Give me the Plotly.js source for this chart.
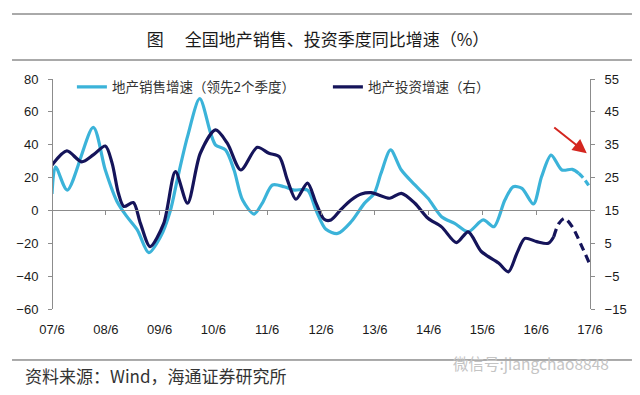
<!DOCTYPE html>
<html>
<head>
<meta charset="utf-8">
<script src="https://cdn.plot.ly/plotly-3.0.1.min.js"></script>
<style>html,body{margin:0;padding:0;background:#fff;}#chart{width:640px;height:395px;}</style>
</head>
<body>
<div id="chart"></div>
<script>
// Sales growth (left axis, led 2 quarters) - solid part
var salesDates = ["2007-06-01","2007-06-25","2007-09-13","2008-03-07","2008-05-28","2008-08-16","2008-10-22","2009-01-01","2009-03-19","2009-06-07","2009-08-13","2009-09-28","2009-12-07","2010-02-28","2010-05-13","2010-06-16","2010-08-22","2010-10-19","2010-12-16","2011-03-04","2011-04-28","2011-07-07","2011-09-25","2011-12-01","2012-03-01","2012-04-28","2012-07-04","2012-09-22","2012-12-22","2013-03-22","2013-05-28","2013-07-13","2013-09-16","2013-11-28","2014-02-28","2014-05-28","2014-08-28","2014-11-25","2015-02-25","2015-06-07","2015-08-19","2015-11-01","2015-12-28","2016-02-25","2016-05-13","2016-07-07","2016-09-10","2016-11-22","2017-02-01","2017-03-16"];
var salesValues = [10,26.6,12.4,50.6,24.6,5.3,-3.8,-12,-25.7,-16,0,18.5,44.9,68,47,39.8,36.8,24.6,6.3,-2.2,4.3,15.5,14.4,12.4,12.4,0,-11.5,-14,-6.9,4.3,10.4,22.6,36.8,24.6,15.5,7.4,-3.8,-7.9,-13,-5.8,-9.9,6.3,14.4,13.4,3.9,20.5,33.7,24.6,25,22.6];
// Sales growth - dashed (projection) part
var salesProjDates = ["2017-03-16","2017-04-19","2017-06-01"];
var salesProjValues = [22.6,19.5,14];

// Investment growth (right axis) - solid part
var invDates = ["2007-06-01","2007-09-10","2007-12-19","2008-03-07","2008-05-28","2008-07-13","2008-08-25","2008-10-01","2008-12-04","2009-01-22","2009-03-28","2009-06-28","2009-09-16","2009-12-07","2010-03-04","2010-06-16","2010-09-04","2010-12-04","2011-03-25","2011-06-13","2011-08-22","2011-10-16","2011-12-13","2012-03-01","2012-04-28","2012-06-22","2012-08-07","2012-10-16","2012-12-22","2013-03-01","2013-05-07","2013-09-10","2013-11-28","2014-02-28","2014-05-28","2014-08-28","2014-12-07","2015-02-25","2015-05-25","2015-09-19","2015-11-25","2016-01-22","2016-03-16","2016-06-04","2016-08-22","2016-09-28"];
var invValues = [28.8,33.1,29.8,31.9,34.6,29.4,20.2,16.2,17.4,11,4,11,26.8,17.2,32.4,39.5,35.4,27.3,34.2,32.4,31.4,24.3,18.4,23.3,17.2,12.3,12.1,15.4,18.2,20,20.4,18.7,20.2,17.2,12.6,10,5.2,8.5,2.5,-1,-3.7,2,6.5,5.5,5,7];
// Investment growth - dashed (projection) part
var invProjDates = ["2016-09-28","2016-11-01","2016-12-10","2017-02-01","2017-04-07","2017-06-01"];
var invProjValues = [7,11,12.6,10,4,-1.5];

var tickVals = ["2007-06-01","2008-06-01","2009-06-01","2010-06-01","2011-06-01","2012-06-01","2013-06-01","2014-06-01","2015-06-01","2016-06-01","2017-06-01"];
var tickLabels = ["07/6","08/6","09/6","10/6","11/6","12/6","13/6","14/6","15/6","16/6","17/6"];

var seriesNames = ["地产销售增速（领先2个季度）","地产投资增速（右）"];

var lightBlue = "#3bb3d9";
var navy = "#15145a";
var cjk = "Noto Sans CJK SC, sans-serif";
var latin = "Liberation Sans, Arial, sans-serif";

var traces = [
  {x: salesDates, y: salesValues, name: seriesNames[0], type: "scatter", mode: "lines",
   line: {color: lightBlue, width: 3.2, shape: "spline", smoothing: 0.8}, yaxis: "y", xaxis: "x"},
  {x: invDates, y: invValues, name: seriesNames[1], type: "scatter", mode: "lines",
   line: {color: navy, width: 3.2, shape: "spline", smoothing: 0.8}, yaxis: "y2", xaxis: "x"},
  {x: salesProjDates, y: salesProjValues, showlegend: false, type: "scatter", mode: "lines",
   line: {color: lightBlue, width: 3.2, shape: "spline", dash: "6px,4px"}, yaxis: "y", xaxis: "x", hoverinfo: "skip"},
  {x: invProjDates, y: invProjValues, showlegend: false, type: "scatter", mode: "lines",
   line: {color: navy, width: 3.2, shape: "spline", smoothing: 0.8, dash: "8px,5px"}, yaxis: "y2", xaxis: "x", hoverinfo: "skip"}
];

var layout = {
  width: 640, height: 395,
  margin: {l: 52, r: 50, t: 79, b: 86, pad: 0},
  paper_bgcolor: "#ffffff", plot_bgcolor: "#ffffff",
  showlegend: true,
  title: {text: "图\u3000 全国地产销售、投资季度同比增速（%）", x: 0.497, xanchor: "center", y: 0.899, yanchor: "middle",
          font: {family: cjk, size: 17, color: "#1a1a1a"}},
  legend: {orientation: "h", x: 0.037, xanchor: "left", y: 0.965, yanchor: "middle",
           font: {family: cjk, size: 13.5, color: "#333"}, bgcolor: "rgba(0,0,0,0)", entrywidth: 211, itemwidth: 30},
  xaxis: {type: "date", range: ["2007-06-01","2017-06-01"], tickvals: tickVals, ticktext: tickLabels,
          anchor: "free", position: 60/140, showline: true, linecolor: "#8c8c8c", linewidth: 1,
          ticks: "outside", ticklen: 4, tickcolor: "#8c8c8c", showgrid: false, zeroline: false,
          ticklabelstandoff: 103, tickfont: {family: latin, size: 13, color: "#1a1a1a"}, fixedrange: true},
  yaxis: {range: [-60, 80], dtick: 20, tick0: 0, showline: true, linecolor: "#8c8c8c", linewidth: 1,
          ticks: "outside", ticklen: 4, tickcolor: "#8c8c8c", showgrid: false, zeroline: false,
          anchor: "free", position: 0, ticklabelstandoff: 7,
          tickfont: {family: latin, size: 13, color: "#1a1a1a"}},
  yaxis2: {range: [-15, 55], dtick: 10, tick0: -15, overlaying: "y", side: "right", anchor: "free", position: 1,
           showline: true, linecolor: "#8c8c8c", linewidth: 1, ticks: "outside", ticklen: 4, tickcolor: "#8c8c8c",
           showgrid: false, zeroline: false, ticklabelstandoff: 7,
           tickfont: {family: latin, size: 13, color: "#1a1a1a"}},
  shapes: [
    {type: "line", xref: "paper", yref: "paper", x0: -0.0743, x1: 1.078, y0: 1.2826, y1: 1.2826, line: {color: "#555", width: 1}},
    {type: "line", xref: "paper", yref: "paper", x0: -0.0743, x1: 1.078, y0: 1.0826, y1: 1.0826, line: {color: "#555", width: 1}},
    {type: "line", xref: "paper", yref: "paper", x0: -0.0743, x1: 1.078, y0: -0.2217, y1: -0.2217, line: {color: "#555", width: 1}}
  ],
  annotations: [
    {xref: "paper", yref: "paper", x: 0.994, y: 0.677, ax: -34, ay: -27, text: "", showarrow: true,
     arrowcolor: "#d4261f", arrowwidth: 2, arrowhead: 2, arrowsize: 1.4},
    {xref: "paper", yref: "paper", x: -0.0539, y: -0.2913, xanchor: "left", yanchor: "middle", showarrow: false,
     text: "资料来源：Wind，海通证券研究所", font: {family: cjk, size: 17, color: "#333"}},
    {xref: "paper", yref: "paper", x: 0.89, y: -0.2348, xanchor: "center", yanchor: "middle", showarrow: false,
     text: "微信号:jiangchao8848", font: {family: cjk, size: 15.5, color: "#c4c4c4"}}
  ]
};

Plotly.newPlot("chart", traces, layout, {displayModeBar: false, staticPlot: true});
</script>
</body>
</html>
